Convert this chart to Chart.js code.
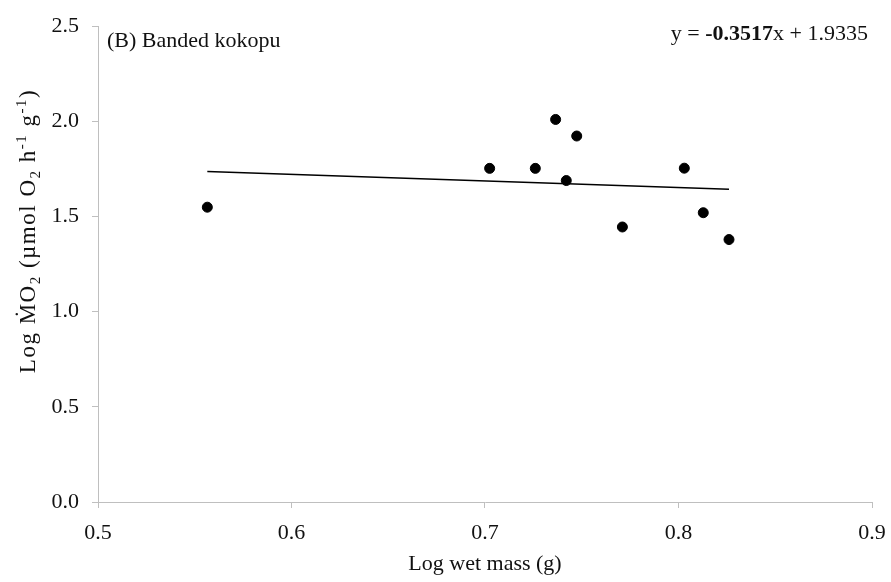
<!DOCTYPE html>
<html>
<head>
<meta charset="utf-8">
<script src="https://cdn.jsdelivr.net/npm/chart.js@4/dist/chart.umd.min.js"></script>
<style>
  html, body { margin: 0; padding: 0; background: #ffffff; }
  #wrap { width: 891px; height: 582px; position: relative; }
</style>
</head>
<body>
<div id="wrap"><canvas id="c" width="891" height="582"></canvas></div>
<script>
// ---- data ----
const logMass = [0.5565, 0.7024, 0.7260, 0.7365, 0.7474, 0.7420, 0.7710, 0.8030, 0.8128, 0.8261];
const logMO2  = [1.549, 1.753, 1.753, 2.010, 1.923, 1.689, 1.445, 1.754, 1.520, 1.379];
const trendX  = [0.5565, 0.8261];
const trendY  = [1.737, 1.643];
const xTickValues = [0.5, 0.6, 0.7, 0.8, 0.9];
const xTickLabels = ['0.5', '0.6', '0.7', '0.8', '0.9'];
const yTickValues = [0.0, 0.5, 1.0, 1.5, 2.0, 2.5];
const yTickLabels = ['0.0', '0.5', '1.0', '1.5', '2.0', '2.5'];
const panelLabel = '(B) Banded kokopu';
const xTitle = 'Log wet mass (g)';
const eqParts = [['y = ', false], ['-0.3517', true], ['x + 1.9335', false]];

const FONT = "'Liberation Serif', 'Times New Roman', serif";
const AXIS_GREY = '#bfbfbf';
const TEXT = '#111111';

const points = logMass.map((x, i) => ({ x: x, y: logMO2[i] }));
const trend = trendX.map((x, i) => ({ x: x, y: trendY[i] }));

const textPlugin = {
  id: 'texts',
  afterDraw(chart) {
    const ctx = chart.ctx;
    ctx.save();
    ctx.fillStyle = TEXT;
    ctx.letterSpacing = '0px';
    // panel label
    ctx.font = '22px ' + FONT;
    ctx.textAlign = 'left';
    ctx.textBaseline = 'middle';
    ctx.fillText(panelLabel, 107, 41);

    // equation, right aligned
    let total = 0;
    eqParts.forEach(p => { ctx.font = (p[1] ? 'bold ' : '') + '22px ' + FONT; total += ctx.measureText(p[0]).width; });
    let x = 868 - total;
    eqParts.forEach(p => {
      ctx.font = (p[1] ? 'bold ' : '') + '22px ' + FONT;
      ctx.fillText(p[0], x, 34);
      x += ctx.measureText(p[0]).width;
    });

    // y-axis title with sub/superscripts
    const segs = [
      ['Log ', 0], ['\u1E40', 0], ['O', 0], ['2', 1], [' (\u00B5mol O', 0], ['2', 1],
      [' h', 0], ['-1', 2], [' g', 0], ['-1', 2], [')', 0]
    ];
    const size = (t) => t === 0 ? 23 : 15;
    ctx.letterSpacing = '1.5px';
    let w = 0;
    segs.forEach(s => { ctx.font = size(s[1]) + 'px ' + FONT; w += ctx.measureText(s[0]).width; });
    ctx.translate(28, 231);
    ctx.rotate(-Math.PI / 2);
    ctx.textBaseline = 'alphabetic';
    let px = -w / 2;
    const base = 7;
    segs.forEach(s => {
      ctx.font = size(s[1]) + 'px ' + FONT;
      const dy = s[1] === 1 ? 5 : (s[1] === 2 ? -9 : 0);
      ctx.fillText(s[0], px, base + dy);
      px += ctx.measureText(s[0]).width;
    });
    ctx.letterSpacing = '0px';
    ctx.restore();
    ctx.letterSpacing = '0px';
  }
};

new Chart(document.getElementById('c'), {
  type: 'scatter',
  data: {
    datasets: [
      {
        label: 'data',
        data: points,
        backgroundColor: '#000000',
        borderColor: '#000000',
        pointRadius: 5,
        pointHoverRadius: 5,
        showLine: false,
        order: 1
      },
      {
        label: 'trend',
        type: 'line',
        data: trend,
        borderColor: '#000000',
        borderWidth: 1.5,
        pointRadius: 0,
        fill: false,
        showLine: true,
        order: 2
      }
    ]
  },
  options: {
    responsive: false,
    animation: false,
    devicePixelRatio: 1,
    layout: { padding: { top: 23, right: 19, left: 0, bottom: 0 } },
    plugins: { legend: { display: false }, tooltip: { enabled: false } },
    scales: {
      x: {
        type: 'linear',
        min: 0.5, max: 0.9,
        afterBuildTicks: (s) => { s.ticks = xTickValues.map(v => ({ value: v })); },
        afterFit: (s) => { s.height = 80; },
        ticks: {
          color: TEXT,
          font: { family: FONT, size: 22, lineHeight: 1.95 },
          padding: 4,
          maxRotation: 0,
          callback: (v) => { const i = xTickValues.findIndex(t => Math.abs(t - v) < 1e-9); return i >= 0 ? xTickLabels[i] : ''; }
        },
        grid: { drawOnChartArea: false, drawTicks: true, tickLength: 6, color: AXIS_GREY, lineWidth: 1 },
        border: { display: true, color: AXIS_GREY, width: 1 },
        title: { display: true, text: xTitle, color: TEXT, font: { family: FONT, size: 22 }, padding: { top: 0, bottom: 5 } }
      },
      y: {
        type: 'linear',
        min: 0, max: 2.5,
        afterBuildTicks: (s) => { s.ticks = yTickValues.map(v => ({ value: v })); },
        afterFit: (s) => { s.width = 98; },
        ticks: {
          color: TEXT,
          font: { family: FONT, size: 22 },
          padding: 13,
          callback: (v) => { const i = yTickValues.findIndex(t => Math.abs(t - v) < 1e-9); return i >= 0 ? yTickLabels[i] : ''; }
        },
        grid: { drawOnChartArea: false, drawTicks: true, tickLength: 6, color: AXIS_GREY, lineWidth: 1 },
        border: { display: true, color: AXIS_GREY, width: 1 }
      }
    }
  },
  plugins: [textPlugin]
});
</script>
</body>
</html>
